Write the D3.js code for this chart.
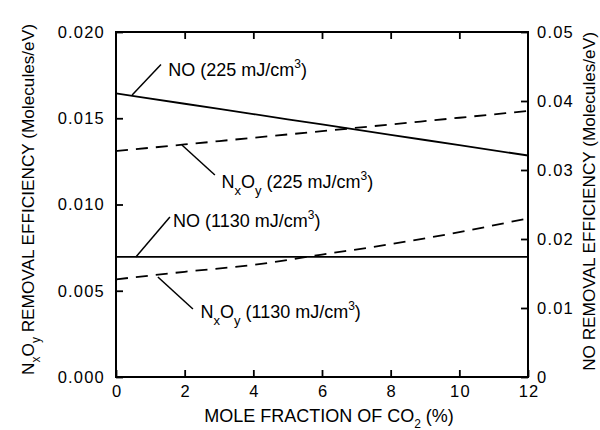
<!DOCTYPE html>
<meta charset="utf-8">
<head>
    <script src="https://d3js.org/d3.v7.min.js"></script>
</head>
<style>
    body { margin: 0; background: white; }
    text { font-family: 'Liberation Sans', Arial, sans-serif; fill: #000; }
    .tick text { font-size: 16.5px; letter-spacing: 1.2px; }
    .axis-label { font-size: 18px; }
    .axis-label.side { font-size: 17.2px; }
    .note { font-size: 18px; }
</style>
<div id="chart"></div>
<script>

    // mole fraction of CO2 (%)
    var co2 = [0, 2, 4, 6, 8, 10, 12];
    // NxOy removal efficiency (left axis)
    var nxoy225 = [0.0131, 0.01348, 0.01387, 0.01425, 0.01464, 0.01503, 0.01542];
    var nxoy1130 = [0.00566, 0.0061, 0.0065, 0.0071, 0.0077, 0.0084, 0.0092];
    // NO removal efficiency (right axis)
    var no225 = [0.0411, 0.0396, 0.0381, 0.0366, 0.0351, 0.0336, 0.0321];
    var no1130 = [0.0174, 0.0174, 0.0174, 0.0174, 0.0174, 0.0174, 0.0174];

    var xTicks = [0, 2, 4, 6, 8, 10, 12];
    var leftTicks = [0, 0.005, 0.010, 0.015, 0.020];
    var rightTicks = [0, 0.01, 0.02, 0.03, 0.04, 0.05];

    // label pieces: [text, 0 normal / 1 superscript / -1 subscript]
    // leader from (x0,y0) to (x1,y1), text at (tx,ty), in left-axis units
    var notes = [
        {parts: [["NO (225 mJ/cm", 0], ["3", 1], [")", 0]], x0: 0.47, y0: 0.01635, x1: 1.31, y1: 0.01812, tx: 1.52, ty: 0.01745},
        {parts: [["N", 0], ["x", -1], ["O", 0], ["y", -1], [" (225 mJ/cm", 0], ["3", 1], [")", 0]], x0: 1.92, y0: 0.01345, x1: 2.88, y1: 0.01171, tx: 3.07, ty: 0.01098},
        {parts: [["NO (1130 mJ/cm", 0], ["3", 1], [")", 0]], x0: 0.58, y0: 0.00696, x1: 1.57, y1: 0.00928, tx: 1.66, ty: 0.00870},
        {parts: [["N", 0], ["x", -1], ["O", 0], ["y", -1], [" (1130 mJ/cm", 0], ["3", 1], [")", 0]], x0: 1.22, y0: 0.0058, x1: 2.24, y1: 0.00394, tx: 2.46, ty: 0.00342}
    ];

    var margin = {top: 32, right: 72, bottom: 53, left: 116},
        width = 600 - margin.left - margin.right,
        height = 430 - margin.top - margin.bottom;

    var svg = d3.select("#chart")
        .append("svg")
        .attr("width", 600)
        .attr("height", 430)
        .append("g")
        .attr("transform", "translate(" + margin.left + "," + margin.top + ")");

    var x = d3.scaleLinear().domain([0, 12]).range([0, width]);
    var yL = d3.scaleLinear().domain([0, 0.02]).range([height, 0]);
    var yR = d3.scaleLinear().domain([0, 0.05]).range([height, 0]);

    // axes, ticks pointing inward
    var gx = svg.append("g")
        .attr("transform", "translate(0," + height + ")")
        .call(d3.axisBottom(x).tickValues(xTicks).tickSize(-7).tickSizeOuter(0).tickPadding(8));
    var gxt = svg.append("g")
        .call(d3.axisTop(x).tickValues(xTicks.slice(1, -1)).tickSize(-7).tickSizeOuter(0).tickFormat(""));
    var gl = svg.append("g")
        .call(d3.axisLeft(yL).tickValues(leftTicks).tickSize(-7).tickSizeOuter(0).tickPadding(11).tickFormat(d3.format(".3f")));
    var gr = svg.append("g")
        .attr("transform", "translate(" + width + ",0)")
        .call(d3.axisRight(yR).tickValues(rightTicks).tickSize(-7).tickSizeOuter(0).tickPadding(9)
            .tickFormat(function(d) { return d === 0 ? "0" : d3.format(".2f")(d); }));

    [gx, gxt, gl, gr].forEach(function(g) {
        g.select(".domain").remove();
        g.selectAll(".tick line").attr("stroke", "#000").attr("stroke-width", 1.8);
        g.selectAll(".tick text").attr("font-family", null).attr("font-size", null).attr("fill", "#000");
    });
    gx.selectAll(".tick text").attr("dx", "0.6px");

    svg.append("rect")
        .attr("width", width)
        .attr("height", height)
        .attr("fill", "none")
        .attr("stroke", "#000")
        .attr("stroke-width", 2);

    // series
    function drawLine(vals, yScale, dashed) {
        var line = d3.line()
            .x(function(d, i) { return x(co2[i]); })
            .y(function(d) { return yScale(d); })
            .curve(d3.curveMonotoneX);
        svg.append("path")
            .datum(vals)
            .attr("d", line)
            .attr("fill", "none")
            .attr("stroke", "#000")
            .attr("stroke-width", 1.8)
            .attr("stroke-dasharray", dashed ? "12,8" : null);
    }
    drawLine(no225, yR, false);
    drawLine(no1130, yR, false);
    drawLine(nxoy225, yL, true);
    drawLine(nxoy1130, yL, true);

    // annotations with leader lines
    notes.forEach(function(n) {
        svg.append("line")
            .attr("x1", x(n.x0)).attr("y1", yL(n.y0))
            .attr("x2", x(n.x1)).attr("y2", yL(n.y1))
            .attr("stroke", "#000").attr("stroke-width", 1.5);
        var baseY = yL(n.ty);
        var t = svg.append("text")
            .attr("class", "note")
            .attr("x", x(n.tx))
            .attr("y", baseY);
        n.parts.forEach(function(p) {
            var s = t.append("tspan").text(p[0]);
            if (p[1] === 1) s.attr("font-size", "12px").attr("y", baseY - 8);
            else if (p[1] === -1) s.attr("font-size", "13px").attr("y", baseY + 7);
            else s.attr("y", baseY);
        });
    });

    // axis titles
    svg.append("text")
        .attr("class", "axis-label")
        .attr("text-anchor", "middle")
        .attr("x", width / 2 + 7)
        .attr("y", height + 45)
        .call(function(t) {
            t.append("tspan").text("MOLE FRACTION OF CO");
            t.append("tspan").text("2").attr("font-size", "12px").attr("dy", 6);
            t.append("tspan").text(" (%)").attr("dy", -6);
        });

    svg.append("text")
        .attr("class", "axis-label side")
        .attr("text-anchor", "middle")
        .attr("transform", "translate(" + (-margin.left + 34) + "," + (height / 2 - 5) + ") rotate(-90)")
        .call(function(t) {
            t.append("tspan").text("N");
            t.append("tspan").text("x").attr("font-size", "12px").attr("dy", 6);
            t.append("tspan").text("O").attr("dy", -6);
            t.append("tspan").text("y").attr("font-size", "12px").attr("dy", 6);
            t.append("tspan").text(" REMOVAL EFFICIENCY (Molecules/eV)").attr("dy", -6);
        });

    svg.append("text")
        .attr("class", "axis-label side")
        .attr("text-anchor", "middle")
        .attr("transform", "translate(" + (width + 67) + "," + (height / 2 - 3) + ") rotate(-90)")
        .text("NO REMOVAL EFFICIENCY (Molecules/eV)");

</script>
